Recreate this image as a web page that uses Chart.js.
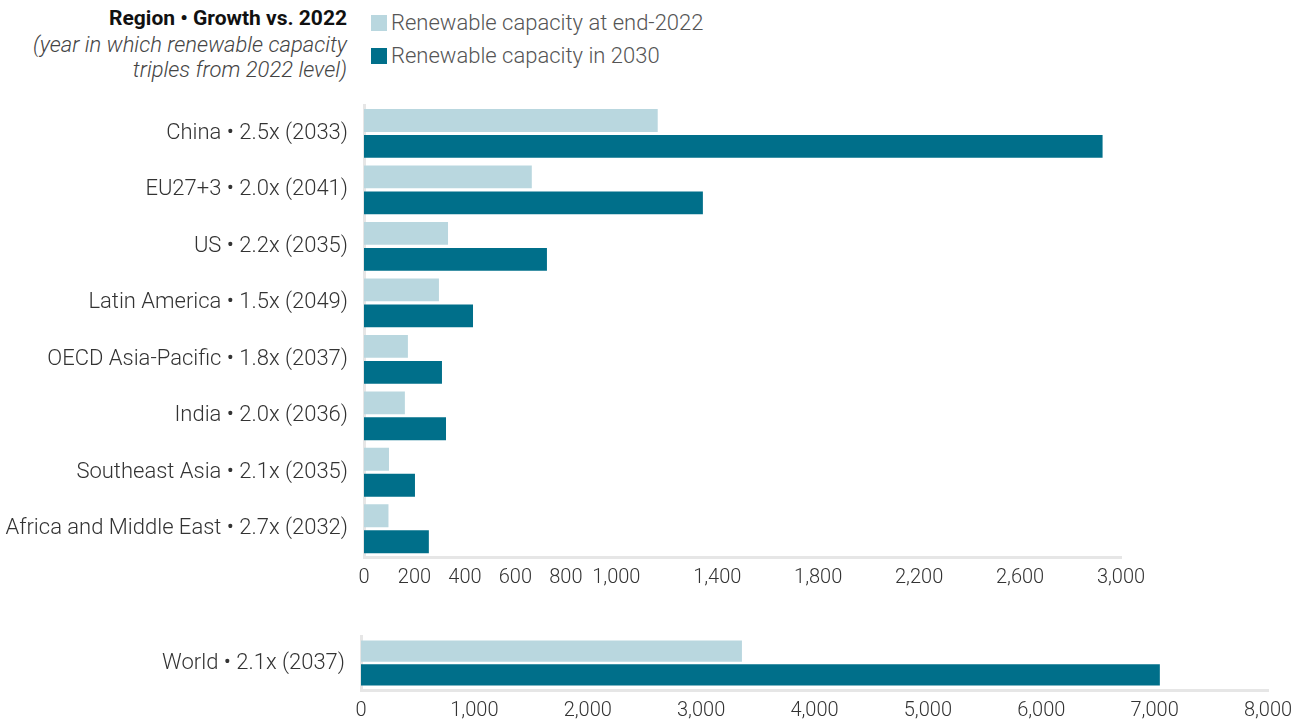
<!DOCTYPE html>
<html>
<head>
<meta charset="utf-8">
<script src="https://cdn.jsdelivr.net/npm/chart.js@4"></script>
<style>
  body { margin: 0; background: #fff; width: 1310px; height: 720px; overflow: hidden; position: relative; font-family: Roboto, sans-serif; }
  .title { position: absolute; right: 963px; top: 4px; text-align: right; color: #111; }
  .title b { font-size: 21px; display: block; line-height: 28px; }
  .title i { font-size: 22px; font-weight: 300; display: block; line-height: 25px; color: #444; }
  .legend { position: absolute; left: 371px; top: 9px; font-size: 22px; font-weight: 300; color: #555; }
  .legend div { height: 33px; line-height: 28px; white-space: nowrap; }
  .legend span { display: inline-block; width: 16px; height: 16px; vertical-align: -1px; margin-right: 4px; }
  #top { position: absolute; left: 0; top: 76px; }
  #bottom { position: absolute; left: 0; top: 600px; }
</style>
</head>
<body>
<div class="title"><b>Region • Growth vs. 2022</b><i>(year in which renewable capacity<br>triples from 2022 level)</i></div>
<div class="legend">
  <div><span style="background:#b9d7df"></span>Renewable capacity at end-2022</div>
  <div><span style="background:#006f8a"></span>Renewable capacity in 2030</div>
</div>
<canvas id="top" width="1310" height="524"></canvas>
<canvas id="bottom" width="1310" height="120"></canvas>
<script>
const regions = [
  "China • 2.5x (2033)",
  "EU27+3 • 2.0x (2041)",
  "US • 2.2x (2035)",
  "Latin America • 1.5x (2049)",
  "OECD Asia-Pacific • 1.8x (2037)",
  "India • 2.0x (2036)",
  "Southeast Asia • 2.1x (2035)",
  "Africa and Middle East • 2.7x (2032)"
];
const capacity2022 = [1164, 665, 333, 297, 174, 162, 99, 97];
const capacity2030 = [2927, 1343, 725, 432, 309, 325, 202, 257];
const regionTicks = [0, 200, 400, 600, 800, 1000, 1400, 1800, 2200, 2600, 3000];

const worldLabel = ["World • 2.1x (2037)"];
const world2022 = [3360];
const world2030 = [7046];
const worldTicks = [0, 1000, 2000, 3000, 4000, 5000, 6000, 7000, 8000];

const light = "#b9d7df";
const dark = "#006f8a";
const axisGrey = "#e6e6e6";

Chart.defaults.font.family = "Roboto, sans-serif";
Chart.defaults.color = "#333";
Chart.defaults.animation = false;

function makeChart(el, labels, a, b, max, ticks, opts) {
  return new Chart(document.getElementById(el), {
    type: "bar",
    data: {
      labels: labels,
      datasets: [
        { label: "Renewable capacity at end-2022", data: a, backgroundColor: light,
          categoryPercentage: opts.cat, barPercentage: opts.bar },
        { label: "Renewable capacity in 2030", data: b, backgroundColor: dark,
          categoryPercentage: opts.cat, barPercentage: opts.bar }
      ]
    },
    options: {
      indexAxis: "y",
      responsive: false,
      layout: { padding: { top: opts.padTop, right: opts.padRight, left: 0, bottom: 0 } },
      plugins: { legend: { display: false }, tooltip: { enabled: false } },
      scales: {
        x: {
          min: 0, max: max,
          afterBuildTicks: s => { s.ticks = ticks.map(v => ({ value: v })); },
          afterFit: s => { s.height = opts.xHeight; },
          grid: { display: false, drawTicks: false },
          border: { color: axisGrey, width: 3 },
          ticks: { padding: opts.tickPad, maxRotation: 0, autoSkip: false,
            font: { size: 20, weight: 300 }, color: "#333",
            callback: v => v.toLocaleString("en-US") }
        },
        y: {
          afterFit: s => { s.width = opts.yWidth; },
          grid: { display: false, drawTicks: false },
          border: { color: axisGrey, width: 3 },
          ticks: { padding: 16, font: { size: 22, weight: 300 }, color: "#333" }
        }
      }
    }
  });
}

makeChart("top", regions, capacity2022, capacity2030, 3000, regionTicks,
  { padTop: 13, padRight: 189, xHeight: 43, yWidth: 364, tickPad: 9, cat: 0.92, bar: 0.88 });
makeChart("bottom", worldLabel, world2022, world2030, 8000, worldTicks,
  { padTop: 36, padRight: 42, xHeight: 30, yWidth: 361, tickPad: 9, cat: 0.88, bar: 0.9 });
</script>
</body>
</html>
